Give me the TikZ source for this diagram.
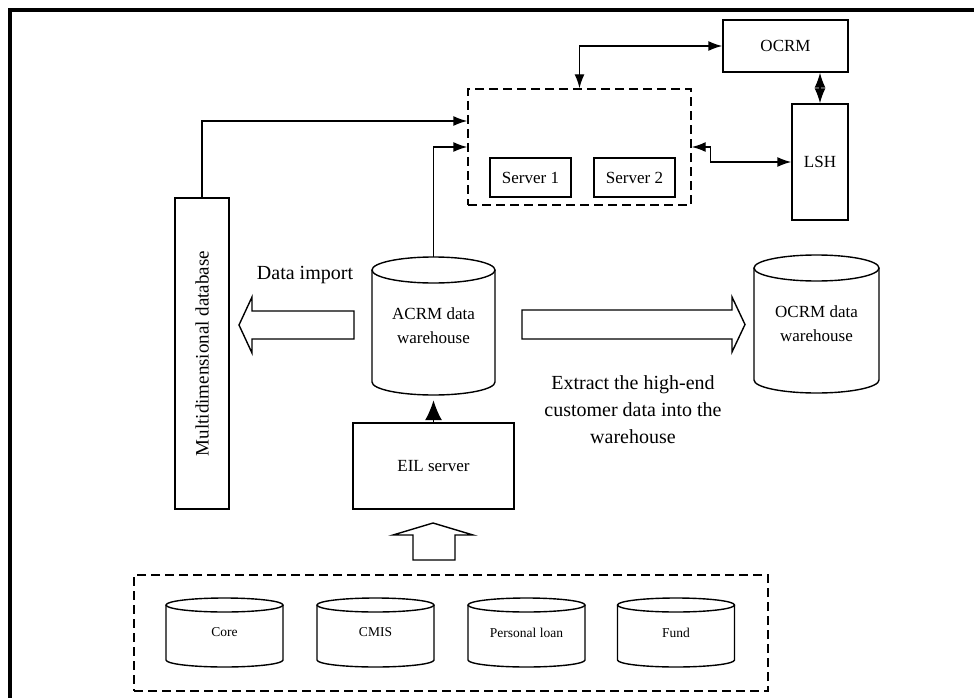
\documentclass[tikz,border=0pt]{standalone}
\usepackage{fontspec}
\setmainfont{Liberation Serif}
\usetikzlibrary{arrows.meta,calc}
\newcommand{\dbcyl}[8]{%
 \draw[line width=1.4pt] ({#2-#4},{#3+#5}) -- ({#2-#4},#6) arc[start angle=180,end angle=0,x radius=#4,y radius=#5] -- ({#2+#4},{#3+#5});
 \draw[line width=1.4pt] (#2,{#3+#5}) ellipse[x radius=#4,y radius=#5];
 \node[#7,inner sep=0pt,minimum width={2*#4},minimum height={#6+#5-#3}] (#1) at (#2,{(#3+#6+#5)/2}) {#8};
}
\begin{document}
\begin{tikzpicture}[x=1pt,y=-1pt,
 box/.style={draw,line width=1.4pt,inner sep=0pt},
 dbox/.style={draw,line width=1.4pt,dash pattern=on 9pt off 5pt,inner sep=0pt},
 arr/.style={line width=1.4pt,-{Latex[length=14pt,width=10pt]}},
 arrb/.style={line width=1.4pt,{Latex[length=14pt,width=10pt]}-{Latex[length=14pt,width=10pt]}},
 lbl/.style={font=\fontsize{17}{24}\selectfont,align=center},
 big/.style={font=\fontsize{20}{27}\selectfont,align=center},
 small/.style={font=\fontsize{13.5}{16}\selectfont,align=center},
 hollow/.style={draw,line width=1.4pt,line join=miter,fill=white}]
\useasboundingbox (0,0) rectangle (974,698);
\draw[line width=4pt] (10,698) -- (10,10) -- (974,10);

\node[box,minimum width=125pt,minimum height=52pt,lbl] (ocrm) at (785.5,46) {OCRM};
\node[box,minimum width=56pt,minimum height=116pt,lbl] (lsh) at (820,162) {LSH};
\node[dbox,minimum width=223pt,minimum height=116pt] (srv) at (579.5,147) {};
\node[box,minimum width=81pt,minimum height=39pt,lbl] (s1) at (530.5,177.5) {Server 1};
\node[box,minimum width=81pt,minimum height=39pt,lbl] (s2) at (634.5,177.5) {Server 2};
\node[box,minimum width=54pt,minimum height=311pt] (mdb) at (202,353.5) {};
\node[rotate=90,font=\fontsize{19}{22}\selectfont] (mdbt) at (mdb) {Multidimensional database};
\node[box,minimum width=161pt,minimum height=86pt,lbl] (eil) at (433.5,466) {EIL server};
\node[dbox,minimum width=634pt,minimum height=116pt] (src) at (451,633) {};

\dbcyl{acrm}{433.5}{257}{61.5}{13}{382}{lbl}{ACRM data\\warehouse}
\dbcyl{ocrmdw}{816.5}{255}{62.5}{13}{380}{lbl}{OCRM data\\warehouse}
\dbcyl{core}{224.5}{598}{58.5}{7}{660}{small}{Core}
\dbcyl{cmis}{375.5}{598}{58.5}{7}{660}{small}{CMIS}
\dbcyl{ploan}{526.5}{598}{58.5}{7}{660}{small}{Personal loan}
\dbcyl{fund}{676}{598}{58.5}{7}{660}{small}{Fund}

\draw[arr] (mdb.north) |- ([yshift=26pt]srv.west);
\draw[arr] (acrm.north) |- (srv.west);
\draw[arrb] (srv.north) |- (ocrm.west);
\draw[arrb] (srv.east) -- ++(19,0) |- (lsh.west);
\draw[line width=1.4pt,{Latex[length=15pt,width=11pt]}-{Latex[length=15pt,width=11pt]}] (lsh.north) -- (lsh.north |- ocrm.south);
\draw[line width=1.4pt,-{Latex[length=20pt,width=17pt]}] (eil.north) -- ([yshift=-5pt]acrm.south);

\draw[hollow] (354,311) -- (252,311) -- (252,297) -- (239,325) -- (252,353) -- (252,339) -- (354,339) -- cycle;
\draw[hollow] (522,310) -- (732,310) -- (732,297) -- (745,324.5) -- (732,352) -- (732,339) -- (522,339) -- cycle;
\draw[hollow] (413,560) -- (413,535) -- (393,535) -- (433,523) -- (473,535) -- (455,535) -- (455,560) -- cycle;

\node[big] (dimp) at (305,275) {Data import};
\node[big] (extr) at (633,410) {Extract the high-end\\customer data into the\\warehouse};
\end{tikzpicture}
\end{document}
